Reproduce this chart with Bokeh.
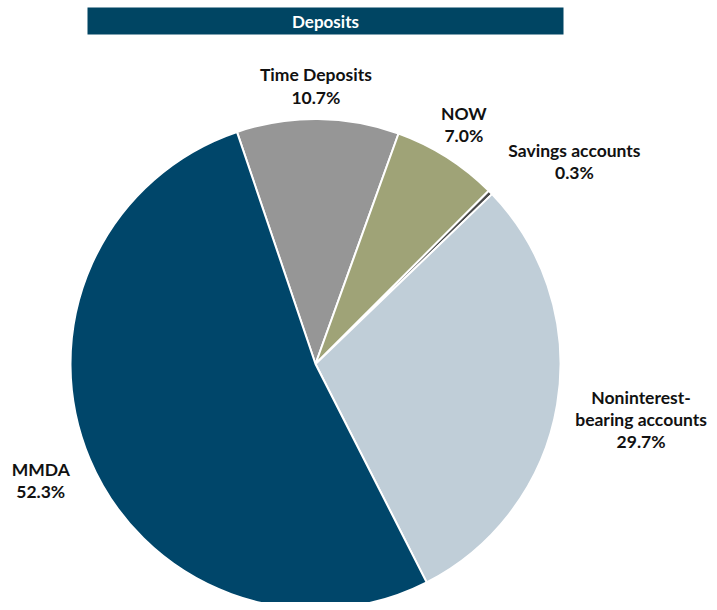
import math
from bokeh.plotting import figure
from bokeh.models import Range1d, ColumnDataSource
from bokeh.core.properties import value
from bokeh.embed import file_html
from bokeh.resources import INLINE

# ---- data ----
title = "Deposits"
categories = ["Time Deposits", "NOW", "Savings accounts", "Noninterest-\nbearing accounts", "MMDA"]
shares = [10.7, 7.0, 0.3, 29.7, 52.3]
colors = ["#969696", "#9fa377", "#4a4a4a", "#c0ced8", "#00466a"]

# ---- layout ----
W, H = 709, 602
CX, CY, R = 315, 610 - 363.5, 245
START = -18.7  # degrees clockwise from 12 o'clock
# label centre offsets (px) from the slice's outer edge midpoint (x right, y up)
label_off = [(-2, 33), (17, 33), (84, 31), (84, -15), (-49, -21)]
FONT = "Lato"

p = figure(width=W, height=H, output_backend="svg", toolbar_location=None,
           x_range=Range1d(0, W), y_range=Range1d(610 - H, 610), min_border=0)
p.axis.visible = False
p.grid.visible = False
p.outline_line_color = None
p.background_fill_color = "white"

total = sum(shares)
starts, ends, lx, ly, labels = [], [], [], [], []
cum = START
for i, (c, s) in enumerate(zip(categories, shares)):
    a0 = cum
    a1 = cum + s / total * 360.0
    cum = a1
    starts.append(math.radians(90 - a0))
    ends.append(math.radians(90 - a1))
    mid = math.radians((a0 + a1) / 2)
    lx.append(CX + R * math.sin(mid) + label_off[i][0])
    ly.append(CY + R * math.cos(mid) + label_off[i][1])
    labels.append(f"{c}\n{s:.1f}%")

src = ColumnDataSource(dict(start=starts, end=ends, color=colors))
p.wedge(x=CX, y=CY, radius=R, start_angle="start", end_angle="end", direction="clock",
        fill_color="color", line_color="white", line_width=2, source=src)

p.text(x=lx, y=ly, text=labels, text_align="center", text_baseline="middle",
       text_font=value(FONT), text_font_style="bold", text_font_size="17.5px",
       text_color="#111111", text_line_height=1.05)

# title bar
p.rect(x=[325], y=[610 - 20.5], width=[476], height=[27], fill_color="#004563", line_color=None)
p.text(x=[325], y=[610 - 20.5], text=[title], text_align="center", text_baseline="middle",
       text_font=value(FONT), text_font_style="bold", text_font_size="17px", text_color="white")

open("out.html", "w").write(file_html(p, INLINE))
